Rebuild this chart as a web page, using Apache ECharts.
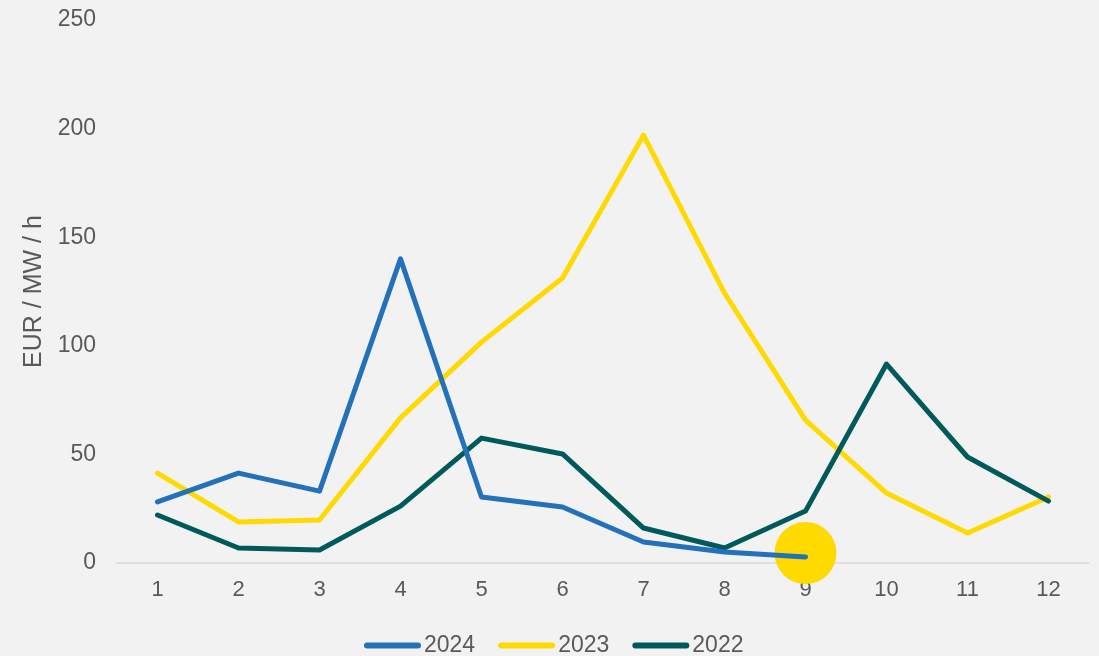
<!DOCTYPE html>
<html>
<head>
<meta charset="utf-8">
<script src="https://cdn.jsdelivr.net/npm/echarts@6/dist/echarts.min.js"></script>
<style>
html,body{margin:0;padding:0;background:#f2f2f2;}
#chart{width:1099px;height:656px;}
</style>
</head>
<body>
<div id="chart"></div>
<script>
const months = ['1','2','3','4','5','6','7','8','9','10','11','12'];
const s2024 = [28.1, 41.4, 33.1, 140, 30.4, 25.8, 9.7, 5.1, 2.8];
const s2023 = [41.4, 18.9, 19.8, 66.8, 101.7, 131.2, 197, 124.3, 65.8, 32.2, 13.8, 30.4];
const s2022 = [22.1, 6.9, 6.0, 26.2, 57.5, 50.2, 16.1, 6.9, 23.9, 91.6, 48.8, 28.5];
const highlight = [['9', 4.6]];
const yTicks = {min: 0, max: 250, interval: 50};

const font = 'Liberation Sans, Arial, sans-serif';
const txt = '#595959';
const icon = 'path://M3,0 L54,0 A3,3 0 0 1 54,6 L3,6 A3,3 0 0 1 3,0 Z';

const chart = echarts.init(document.getElementById('chart'));
chart.setOption({
  backgroundColor: '#f2f2f2',
  animation: false,
  textStyle: {fontFamily: font},
  grid: {left: 117, right: 10, top: 20, bottom: 93},
  legend: {
    data: ['2024', '2023', '2022'],
    left: 359, top: 629,
    icon: icon, itemWidth: 57, itemHeight: 6, itemGap: 23,
    textStyle: {fontFamily: font, fontSize: 23, color: txt, padding: [0, 0, 0, -2]}
  },
  xAxis: {
    type: 'category',
    data: months,
    boundaryGap: true,
    axisLine: {lineStyle: {color: '#d9d9d9', width: 1.5}},
    axisTick: {show: false},
    axisLabel: {fontFamily: font, fontSize: 22, color: txt, margin: 16},
    splitLine: {show: false}
  },
  yAxis: {
    type: 'value',
    min: yTicks.min, max: yTicks.max, interval: yTicks.interval,
    name: 'EUR / MW / h',
    nameLocation: 'middle', nameRotate: 90, nameGap: 70,
    nameTextStyle: {fontFamily: font, fontSize: 25, color: txt},
    axisLine: {show: false},
    axisTick: {show: false},
    axisLabel: {fontFamily: font, fontSize: 23, color: txt, margin: 21},
    splitLine: {show: false}
  },
  series: [
    {
      name: 'highlight', type: 'scatter', data: highlight, z: 1,
      symbol: 'circle', symbolSize: 62,
      itemStyle: {color: '#FFDA00', opacity: 1}, silent: true
    },
    {
      name: '2024', type: 'line', data: s2024, z: 5, symbol: 'none',
      lineStyle: {color: '#2371B9', width: 5, cap: 'round', join: 'round'},
      itemStyle: {color: '#2371B9'}
    },
    {
      name: '2023', type: 'line', data: s2023, z: 3, symbol: 'none',
      lineStyle: {color: '#FFDA00', width: 5, cap: 'round', join: 'round'},
      itemStyle: {color: '#FFDA00'}
    },
    {
      name: '2022', type: 'line', data: s2022, z: 4, symbol: 'none',
      lineStyle: {color: '#005A5B', width: 5, cap: 'round', join: 'round'},
      itemStyle: {color: '#005A5B'}
    }
  ]
});
</script>
</body>
</html>
